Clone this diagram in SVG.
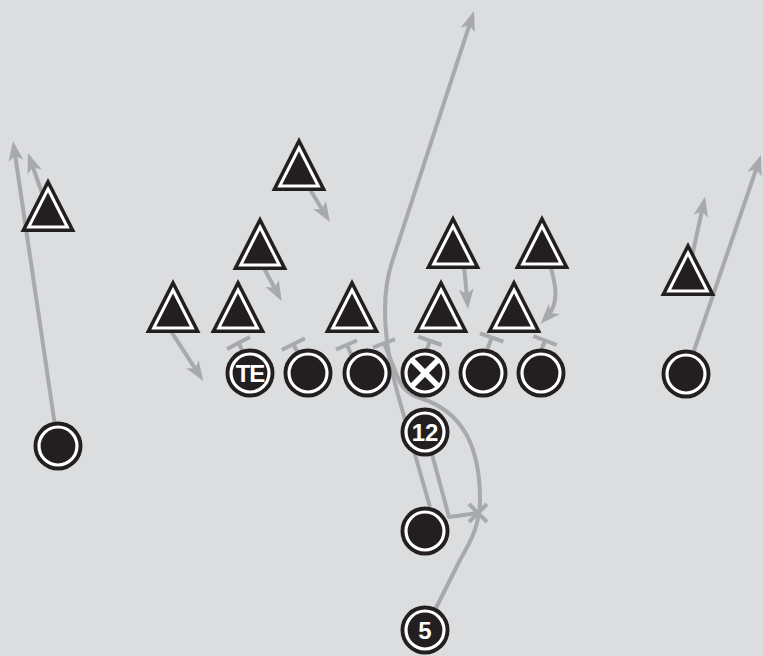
<svg xmlns="http://www.w3.org/2000/svg" width="763" height="656" viewBox="0 0 763 656">
<style>
.ln{fill:none;stroke:#a7a9ac;stroke-width:4;stroke-linejoin:round}
.blk{fill:#231f20}
.ring{fill:#231f20;stroke:#ffffff;stroke-width:3.2}
.lbl{fill:#ffffff;font-family:"Liberation Sans",Arial,sans-serif;font-weight:bold;font-size:24px;text-anchor:middle}
</style>
<defs>
<marker id="ah" markerUnits="userSpaceOnUse" orient="auto" refX="0" refY="0" markerWidth="30" markerHeight="30" overflow="visible">
<path d="M8,0 L-12,-7.5 L-7,0 L-12,7.5 Z" fill="#a7a9ac"/>
</marker>
<g id="tri">
<polygon class="blk" points="0,0 27.5,54 -27.5,54"/>
<polygon points="0,11 19.3,49 -19.3,49" fill="#231f20" stroke="#ffffff" stroke-width="3"/>
</g>
<g id="circ">
<circle r="24.5" class="blk"/>
<circle r="19" class="ring"/>
</g>
</defs>
<rect width="763" height="656" fill="#dcdddf"/>
<g id="connectors">
<path class="ln" d="M58,446 L14.2,148.9" marker-end="url(#ah)"/>
<path class="ln" d="M48,210 L30.6,160.6" marker-end="url(#ah)"/>
<path class="ln" d="M298,170 L325.8,215.2" marker-end="url(#ah)"/>
<path class="ln" d="M252,246 L277.9,294" marker-end="url(#ah)"/>
<path class="ln" d="M165,322 L198.9,374.3" marker-end="url(#ah)"/>
<path class="ln" d="M463,255 L467.3,301" marker-end="url(#ah)"/>
<path class="ln" d="M550,265 C556,285 560,303 546,318" marker-end="url(#ah)"/>
<path class="ln" d="M688,275 L703.3,204.5" marker-end="url(#ah)"/>
<path class="ln" d="M686,374 L758.4,162.6" marker-end="url(#ah)"/>
<path class="ln" d="M430,507 L398,395 Q375.5,312 392,262 L471.5,18.6" marker-end="url(#ah)"/>
<path class="ln" d="M426,432 L449,517 L478,513"/>
<path class="ln" d="M469,504 L487,522 M487,504 L469,522"/>
<path class="ln" d="M425,630 L460,560 C473,538 480,522 480,500 C480,450 465,412 420,398 Q404,393 398,378 L384,343"/>
<path class="ln" d="M373,347.5 L395,339.2"/>
<path class="ln" d="M238.5,343 L244,353.6 M227,349 L250,337"/>
<path class="ln" d="M293.4,344.2 L298.8,355 M281.7,350 L305,338.3"/>
<path class="ln" d="M347,344.8 L351.7,355.8 M336,349.5 L357,340.5"/>
<path class="ln" d="M430,340.8 L426,352 M418.3,336.7 L441.7,345"/>
<path class="ln" d="M491.7,337.5 L487.6,348.8 M480,333.3 L503.3,341.7"/>
<path class="ln" d="M545,340.5 L540.7,351.7 M533.3,336 L556.7,345"/>
</g>
<g id="d1"><use href="#tri" x="173" y="279"/></g>
<g id="d2"><use href="#tri" x="238" y="279"/></g>
<g id="d3"><use href="#tri" x="352" y="279"/></g>
<g id="d4"><use href="#tri" x="441" y="279"/></g>
<g id="d5"><use href="#tri" x="514" y="279"/></g>
<g id="d6"><use href="#tri" x="260" y="216"/></g>
<g id="d7"><use href="#tri" x="453" y="215"/></g>
<g id="d8"><use href="#tri" x="542" y="215"/></g>
<g id="d9"><use href="#tri" x="299" y="137"/></g>
<g id="d10"><use href="#tri" x="48" y="178"/></g>
<g id="d11"><use href="#tri" x="688" y="242"/></g>
<g id="te"><use href="#circ" x="250" y="373"/><text class="lbl" x="250" y="381.8" letter-spacing="-1">TE</text></g>
<g id="o2"><use href="#circ" x="308" y="373"/></g>
<g id="o3"><use href="#circ" x="367" y="373"/></g>
<g id="center"><use href="#circ" x="425" y="373"/><path d="M412.5,360.5 L437.5,385.5 M437.5,360.5 L412.5,385.5" stroke="#ffffff" stroke-width="5.5" fill="none"/></g>
<g id="o5"><use href="#circ" x="483" y="373"/></g>
<g id="o6"><use href="#circ" x="541" y="373"/></g>
<g id="wr-right"><use href="#circ" x="686" y="374"/></g>
<g id="wr-left"><use href="#circ" x="58" y="446"/></g>
<g id="qb12"><use href="#circ" x="425" y="432"/><text class="lbl" x="425" y="440.8">12</text></g>
<g id="back"><use href="#circ" x="425" y="531"/></g>
<g id="p5"><use href="#circ" x="425" y="630"/><text class="lbl" x="425" y="639" font-size="25">5</text></g>
</svg>
